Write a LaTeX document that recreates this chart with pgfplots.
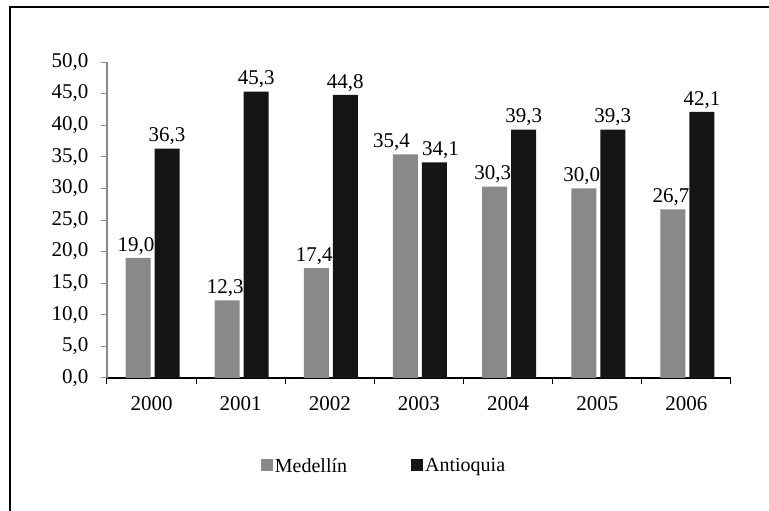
\documentclass[border=0pt]{standalone}
\usepackage{fontspec}
\setmainfont{Liberation Serif}
\usepackage{pgfplots}
\pgfplotsset{compat=1.18}
\definecolor{medg}{HTML}{898989}
\definecolor{antb}{HTML}{151515}
\definecolor{axg}{HTML}{8A8A8A}
\begin{document}
\begin{tikzpicture}[x=1pt,y=1pt]
\useasboundingbox (-107,-133) rectangle (662,378);
\draw[line width=2pt,black] (-97,-140) -- (-97,371) -- (670,371);
\begin{axis}[
  at={(0,0)}, anchor=south west,
  scale only axis, width=624pt, height=316pt,
  xmin=-0.5, xmax=6.5, ymin=0, ymax=50,
  axis x line*=bottom, axis y line*=left,
  x axis line style={black, line width=1.6pt, -},
  y axis line style={axg, line width=1.6pt, -},
  xtick={-0.5,0.5,...,6.5},
  x tick label as interval=true,
  xticklabels={2000,2001,2002,2003,2004,2005,2006},
  ytick={0,5,...,50},
  tick align=outside,
  major tick length=6pt,
  x tick style={black, line width=1pt},
  y tick style={axg, line width=1pt},
  tick label style={font=\fontsize{21}{25}\selectfont, text=black},
  xticklabel style={yshift=-9pt},
  yticklabel style={xshift=-9pt,
    /pgf/number format/fixed, /pgf/number format/fixed zerofill,
    /pgf/number format/precision=1, /pgf/number format/use comma,
    /pgf/number format/assume math mode=true},
  ybar, bar width=25pt,
  nodes near coords,
  visualization depends on={rawx \as \xv},
  nodes near coords style={font=\fontsize{21}{25}\selectfont, black,
    /pgf/number format/fixed, /pgf/number format/fixed zerofill,
    /pgf/number format/precision=1, /pgf/number format/use comma,
    /pgf/number format/assume math mode=true},
  legend columns=2,
  legend style={at={(0.444,-0.278)}, anchor=center, draw=none, fill=none,
    font=\fontsize{20}{24}\selectfont, /tikz/every even column/.append style={column sep=62pt}},
  legend image code/.code={\fill[#1] (0pt,-5pt) rectangle (12pt,7pt);},
  clip=false,
]
\addplot[fill=medg, draw=none, bar shift=-13.5pt,
  every node near coord/.append style={xshift={ifthenelse(\xv==3,-14,-2)*1pt}}]
  coordinates {(0,19.0) (1,12.3) (2,17.4) (3,35.4) (4,30.3) (5,30.0) (6,26.7)};
\addplot[fill=antb, draw=none, bar shift=15.5pt,
  every node near coord/.append style={xshift={ifthenelse(\xv==3,6,0)*1pt}}]
  coordinates {(0,36.3) (1,45.3) (2,44.8) (3,34.1) (4,39.3) (5,39.3) (6,42.1)};
\legend{Medellín, Antioquia}
\end{axis}
\end{tikzpicture}
\end{document}
